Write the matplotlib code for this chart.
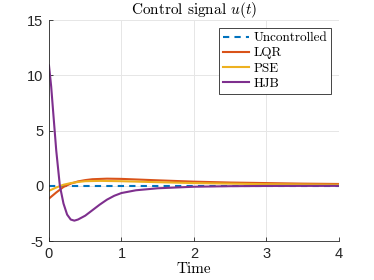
import numpy as np
import matplotlib
matplotlib.use("Agg")
import matplotlib.pyplot as plt

plt.rcParams["mathtext.fontset"] = "cm"
plt.rcParams["axes.unicode_minus"] = False

# values
t_hjb = [0, 0.03, 0.06, 0.1, 0.15, 0.2, 0.25, 0.3, 0.35, 0.4, 0.5, 0.6, 0.7,
         0.8, 0.9, 1.0, 1.2, 1.5, 2.0, 2.5, 3.0, 4.0]
u_hjb = [10.9, 9.0, 6.5, 3.2, 0.0, -1.6, -2.6, -3.05, -3.15, -3.05, -2.7, -2.2,
         -1.7, -1.25, -0.9, -0.65, -0.4, -0.22, -0.08, -0.03, -0.01, 0.0]

t_lqr = [0, 0.1, 0.2, 0.3, 0.4, 0.5, 0.6, 0.8, 1.0, 1.5, 2.0, 2.5, 3.0, 3.5, 4.0]
u_lqr = [-1.15, -0.6, -0.1, 0.2, 0.4, 0.52, 0.6, 0.65, 0.63, 0.5, 0.38, 0.3,
         0.25, 0.2, 0.17]

t_pse = [0, 0.1, 0.2, 0.3, 0.4, 0.5, 0.7, 1.0, 1.5, 2.0, 3.0, 4.0]
u_pse = [-0.45, -0.15, 0.1, 0.25, 0.35, 0.42, 0.45, 0.42, 0.33, 0.25, 0.15, 0.1]

t_unc = [0, 4]
u_unc = [0, 0]

labels = ["Uncontrolled", "LQR", "PSE", "HJB"]

fig, ax = plt.subplots(figsize=(3.74, 2.8), dpi=100)
fig.subplots_adjust(left=0.131, right=0.906, top=0.928, bottom=0.139)

ax.plot(t_unc, u_unc, "--", color="#0072BD", lw=1.5, label=labels[0], dashes=(3, 2.5))
ax.plot(t_lqr, u_lqr, color="#D95319", lw=1.5, label=labels[1])
ax.plot(t_pse, u_pse, color="#EDB120", lw=1.5, label=labels[2])
ax.plot(t_hjb, u_hjb, color="#7E2F8E", lw=1.5, label=labels[3])

ax.set_xlim(0, 4)
ax.set_ylim(-5, 15)
ax.set_xticks([0, 1, 2, 3, 4])
ax.set_yticks([-5, 0, 5, 10, 15])
ax.grid(True, color="#e6e6e6", lw=0.7)
ax.set_axisbelow(True)
for s in ["top", "right"]:
    ax.spines[s].set_visible(False)
for s in ["left", "bottom"]:
    ax.spines[s].set_color("#262626")
    ax.spines[s].set_linewidth(0.6)
ax.tick_params(direction="in", length=3, width=0.6, colors="#262626",
               labelsize=10.5, pad=4)
for lab in ax.get_xticklabels() + ax.get_yticklabels():
    lab.set_family("Liberation Sans")

ax.set_title(r"Control signal $u(t)$", family="cmr10", fontsize=11, pad=4)
ax.set_xlabel("Time", family="cmr10", fontsize=11, labelpad=1)

leg = ax.legend(loc="upper right", prop={"family": "cmr10", "size": 9.5},
                fancybox=False, edgecolor="#262626", framealpha=1,
                handlelength=2.0, handletextpad=0.3, borderpad=0.3,
                labelspacing=0.22, borderaxespad=0.6)
leg.get_frame().set_linewidth(0.6)

fig.savefig("out.png", dpi=100)
